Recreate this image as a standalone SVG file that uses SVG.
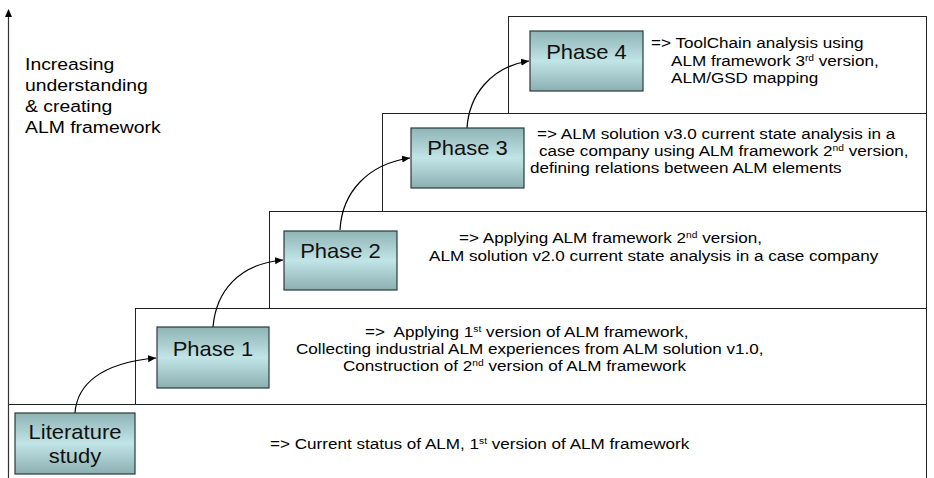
<svg xmlns="http://www.w3.org/2000/svg" width="934" height="478" viewBox="0 0 934 478">
<defs>
<linearGradient id="boxFill" x1="0" y1="0" x2="0" y2="1">
<stop offset="0" stop-color="#8fb4b6"/>
<stop offset="0.5" stop-color="#c1e4e6"/>
<stop offset="1" stop-color="#8cb0b2"/>
</linearGradient>
<marker id="arr" markerWidth="9" markerHeight="8" refX="8" refY="4" orient="auto" markerUnits="userSpaceOnUse">
<path d="M0,0.5 L8,4 L0,7.5 Z" fill="#000"/>
</marker>
<marker id="axisArr" markerWidth="8" markerHeight="9" refX="4" refY="1" orient="0" markerUnits="userSpaceOnUse">
<path d="M0.5,8 L4,0 L7.5,8 Z" fill="#000"/>
</marker>
</defs>
<style>
.layer{fill:#fff;stroke:#222;stroke-width:1}
.box{fill:url(#boxFill);stroke:#2c3a3a;stroke-width:1.2}
.lbl{font-family:"Liberation Sans",Arial,sans-serif;font-size:20px;fill:#111;text-anchor:middle}
.desc{font-family:"Liberation Sans",Arial,sans-serif;font-size:15px;fill:#000}
.axis{font-family:"Liberation Sans",Arial,sans-serif;font-size:17px;fill:#000}
.sup{font-size:9px}
.conn{fill:none;stroke:#000;stroke-width:1.2;marker-end:url(#arr)}
</style>

<g id="layers">
<rect id="layer4" class="layer" x="508.5" y="16.5" width="418" height="97"/>
<rect id="layer3" class="layer" x="382.5" y="113.5" width="544" height="98"/>
<rect id="layer2" class="layer" x="269.5" y="211.5" width="657" height="97"/>
<rect id="layer1" class="layer" x="135.5" y="308.5" width="791" height="96"/>
<rect id="layer0" class="layer" x="8.5" y="404.5" width="918" height="80"/>
</g>

<g id="axis">
<line x1="8.5" y1="478" x2="8.5" y2="10" stroke="#333" stroke-width="1.2" marker-end="url(#axisArr)"/>
<text class="axis" transform="translate(25,70) scale(1.14,1)">Increasing</text>
<text class="axis" transform="translate(25,91) scale(1.14,1)">understanding</text>
<text class="axis" transform="translate(25,112) scale(1.14,1)">&amp; creating</text>
<text class="axis" transform="translate(25,133) scale(1.14,1)">ALM framework</text>
</g>

<g id="connectors">
<path class="conn" d="M75,413 C77,385 100,363 156,358"/>
<path class="conn" d="M213,327 C216,292 238,264 283,260"/>
<path class="conn" d="M340,230 C342,192 368,164 410,158"/>
<path class="conn" d="M467,128 C469,96 490,67 529,61"/>
</g>

<g id="literature">
<rect class="box" x="15" y="413" width="120" height="61"/>
<text class="lbl" transform="translate(75,439) scale(1.1,1)">Literature</text>
<text class="lbl" transform="translate(75,463) scale(1.1,1)">study</text>
</g>
<g id="phase1">
<rect class="box" x="157" y="327" width="112" height="61"/>
<text class="lbl" transform="translate(213,356) scale(1.1,1)">Phase 1</text>
</g>
<g id="phase2">
<rect class="box" x="284" y="231" width="113" height="59"/>
<text class="lbl" transform="translate(340.5,258) scale(1.1,1)">Phase 2</text>
</g>
<g id="phase3">
<rect class="box" x="411" y="128" width="113" height="60"/>
<text class="lbl" transform="translate(467.5,155) scale(1.1,1)">Phase 3</text>
</g>
<g id="phase4">
<rect class="box" x="530" y="31" width="113" height="60"/>
<text class="lbl" transform="translate(586.5,59) scale(1.1,1)">Phase 4</text>
</g>

<g id="desc0">
<text class="desc" transform="translate(270,449) scale(1.14,1)">=&gt; Current status of ALM, 1<tspan class="sup" dy="-5">st</tspan><tspan dy="5"> version of ALM framework</tspan></text>
</g>
<g id="desc1">
<text class="desc" transform="translate(365,337) scale(1.14,1)">=&gt;&#160; Applying 1<tspan class="sup" dy="-5">st</tspan><tspan dy="5"> version of ALM framework,</tspan></text>
<text class="desc" transform="translate(296,354) scale(1.14,1)">Collecting industrial ALM experiences from ALM solution v1.0,</text>
<text class="desc" transform="translate(343,371) scale(1.14,1)">Construction of 2<tspan class="sup" dy="-5">nd</tspan><tspan dy="5"> version of ALM framework</tspan></text>
</g>
<g id="desc2">
<text class="desc" transform="translate(459,243) scale(1.14,1)">=&gt; Applying ALM framework 2<tspan class="sup" dy="-5">nd</tspan><tspan dy="5"> version,</tspan></text>
<text class="desc" transform="translate(429,261) scale(1.14,1)">ALM solution v2.0 current state analysis in a case company</text>
</g>
<g id="desc3">
<text class="desc" transform="translate(537,139) scale(1.14,1)">=&gt; ALM solution v3.0 current state analysis in a</text>
<text class="desc" transform="translate(539,156) scale(1.14,1)">case company using ALM framework 2<tspan class="sup" dy="-5">nd</tspan><tspan dy="5"> version,</tspan></text>
<text class="desc" transform="translate(530,173) scale(1.14,1)">defining relations between ALM elements</text>
</g>
<g id="desc4">
<text class="desc" transform="translate(651,48) scale(1.14,1)">=&gt; ToolChain analysis using</text>
<text class="desc" transform="translate(671,66) scale(1.14,1)">ALM framework 3<tspan class="sup" dy="-5">rd</tspan><tspan dy="5"> version,</tspan></text>
<text class="desc" transform="translate(671,83) scale(1.14,1)">ALM/GSD mapping</text>
</g>
</svg>
